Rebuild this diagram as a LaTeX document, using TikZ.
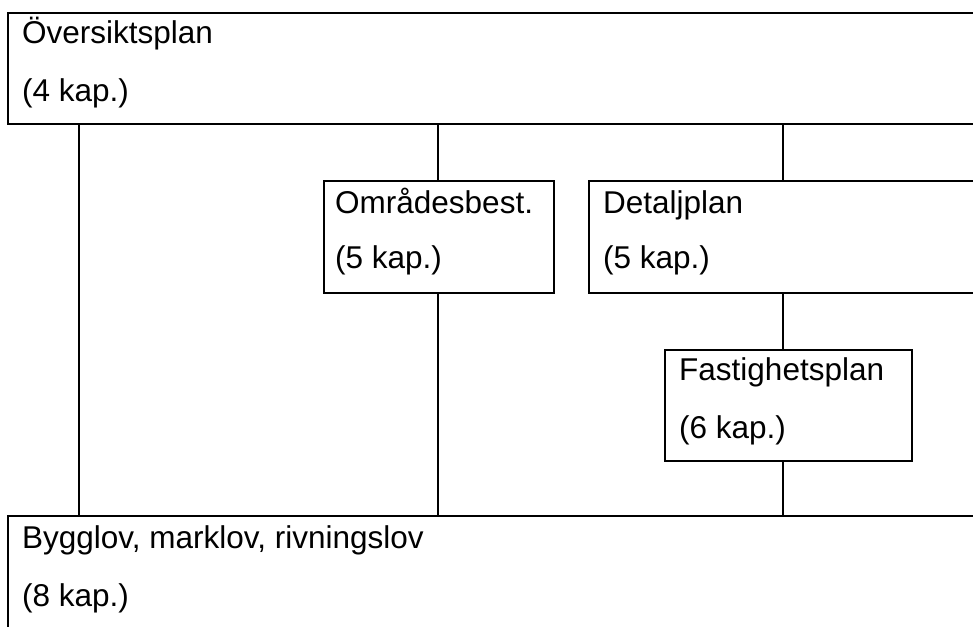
\documentclass[tikz,border=0pt]{standalone}
\usepackage{fontspec}
\setmainfont{Liberation Sans}
\usetikzlibrary{calc}
\begin{document}
\begin{tikzpicture}[x=1pt,y=-1pt,
  box/.style={draw, line width=2.4pt, rectangle, outer sep=0pt, inner sep=0pt, anchor=north west},
  txt/.style={inner sep=0pt, anchor=base west, font=\fontsize{31.5}{37}\selectfont},
  link/.style={draw, line width=2.4pt}]
\useasboundingbox (0,0) rectangle (973,626);
\fill[white] (0,0) rectangle (973,626);
\clip (0,0) rectangle (973,626);
% boxes
\node[box, minimum width=1000pt, minimum height=111pt] (OP) at (8,13) {};
\node[box, minimum width=230pt, minimum height=112pt] (OB) at (324,181) {};
\node[box, minimum width=500pt, minimum height=112pt] (DP) at (589,181) {};
\node[box, minimum width=247pt, minimum height=111pt] (FP) at (665,350) {};
\node[box, minimum width=1000pt, minimum height=200pt] (BL) at (8,516) {};
% texts
\node[txt] (op1) at ($(OP.north west)+(14,31)$) {Översiktsplan};
\node[txt] (op2) at ($(OP.north west)+(14,88)$) {(4 kap.)};
\node[txt] (ob1) at ($(OB.north west)+(11,32)$) {Områdesbest.};
\node[txt] (ob2) at ($(OB.north west)+(11,87)$) {(5 kap.)};
\node[txt] (dp1) at ($(DP.north west)+(14,32)$) {Detaljplan};
\node[txt] (dp2) at ($(DP.north west)+(14,87)$) {(5 kap.)};
\node[txt] (fp1) at ($(FP.north west)+(14,30)$) {Fastighetsplan};
\node[txt] (fp2) at ($(FP.north west)+(14,88)$) {(6 kap.)};
\node[txt] (bl1) at ($(BL.north west)+(14,32)$) {Bygglov, marklov, rivningslov};
\node[txt] (bl2) at ($(BL.north west)+(14,90)$) {(8 kap.)};
% connector columns
\coordinate (c1) at (79,0);
\coordinate (c2) at (438,0);
\coordinate (c3) at (783,0);
% connectors
\draw[link] (OP.south -| c1) -- (BL.north -| c1);
\draw[link] (OP.south -| c2) -- (OB.north -| c2);
\draw[link] (OB.south -| c2) -- (BL.north -| c2);
\draw[link] (OP.south -| c3) -- (DP.north -| c3);
\draw[link] (DP.south -| c3) -- (FP.north -| c3);
\draw[link] (FP.south -| c3) -- (BL.north -| c3);
\end{tikzpicture}
\end{document}
